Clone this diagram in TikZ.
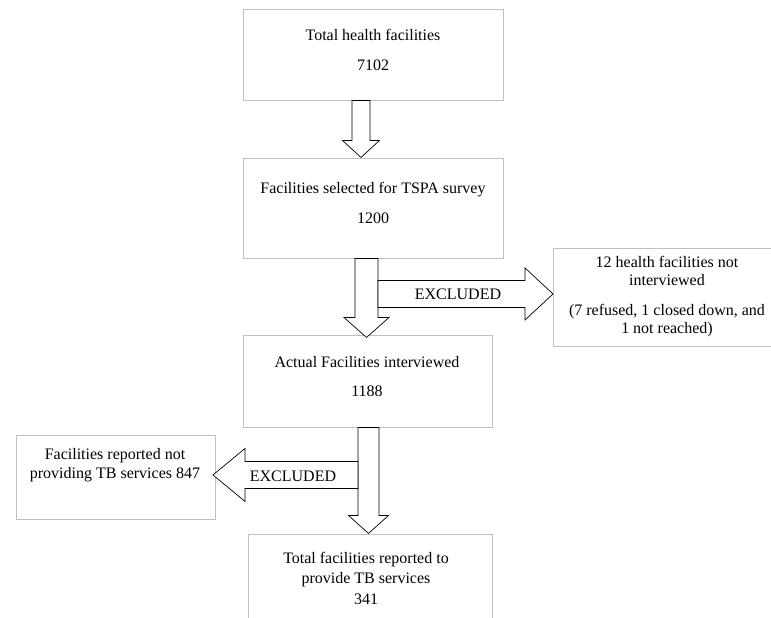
\documentclass[tikz,border=0pt]{standalone}
\usepackage{fontspec}
\setmainfont{Liberation Serif}
\usetikzlibrary{calc}

\tikzset{
  flowbox/.style={draw=gray!50, line width=0.9pt, inner sep=0pt},
  boxtext/.style={align=center, inner sep=0pt, font=\fontsize{16}{19}\selectfont},
  arrowbody/.style={draw=black, line width=0.7pt, fill=white, line join=miter}
}

% block arrow: start, shaft half width, shaft length, head half width, head length, angle
\newcommand{\fatarrow}[6]{%
  \draw[arrowbody, shift={(#1)}, rotate=#6]
    (-#2,0) -- (-#2,#3) -- (-#4,#3) -- (0,#3+#5) -- (#4,#3) -- (#2,#3) -- (#2,0) -- cycle;
}

\begin{document}
\begin{tikzpicture}[x=1pt,y=-1pt]
    \useasboundingbox[fill=white] (0,0) rectangle (771,618);

    % Boxes of the main column
    \node[flowbox, minimum width=260pt, minimum height=91pt] (total) at (373,54.5) {};
    \node[boxtext] (total-txt) at (373,50) {Total health facilities\\[11pt]7102};

    \node[flowbox, minimum width=260pt, minimum height=100pt] (selected) at (373,208) {};
    \node[boxtext] (selected-txt) at (373,203) {Facilities selected for TSPA survey\\[11pt]1200};

    \node[flowbox, minimum width=249pt, minimum height=92pt] (actual) at (367.5,381) {};
    \node[boxtext] (actual-txt) at (367,376.5) {Actual Facilities interviewed\\[10pt]1188};

    \node[flowbox, minimum width=244pt, minimum height=88pt] (provide) at (370,578) {};
    \node[boxtext] (provide-txt) at (366,578)
        {Total facilities reported to\\[1pt]provide TB services\\[2pt]341};

    % Side boxes (excluded)
    \node[flowbox, minimum width=225pt, minimum height=98pt] (notint) at (665.5,297) {};
    \node[boxtext] (notint-txt) at (667,297)
        {12 health facilities not\\[-1pt]interviewed\\[11pt](7 refused, 1 closed down, and\\[-1pt]1 not reached)};

    \node[flowbox, minimum width=199pt, minimum height=84pt] (nottb) at (115.5,477) {};
    \node[boxtext] (nottb-txt) at (115,465)
        {Facilities reported not\\providing TB services 847};

    % Down arrows
    \coordinate (a1) at ($(total.south)+(-12,0)$);
    \fatarrow{a1}{9}{40}{18.5}{17}{0}
    \coordinate (a2) at ($(selected.south)+(-6.5,0)$);
    \fatarrow{a2}{11.5}{59}{22.5}{20}{0}
    \coordinate (a3) at ($(actual.south)+(1,0)$);
    \fatarrow{a3}{10.5}{88}{20}{18}{0}

    % Side arrows
    \coordinate (b1) at ($(a2)+(11.5,35.5)$);
    \fatarrow{b1}{13.5}{147}{26}{28}{90}
    \node[boxtext] (excl-r) at (458,294) {EXCLUDED};

    \coordinate (b2) at ($(a3)+(-10.5,47.5)$);
    \fatarrow{b2}{13.5}{113}{26.5}{32}{-90}
    \node[boxtext] (excl-l) at (293,476) {EXCLUDED};
\end{tikzpicture}
\end{document}
